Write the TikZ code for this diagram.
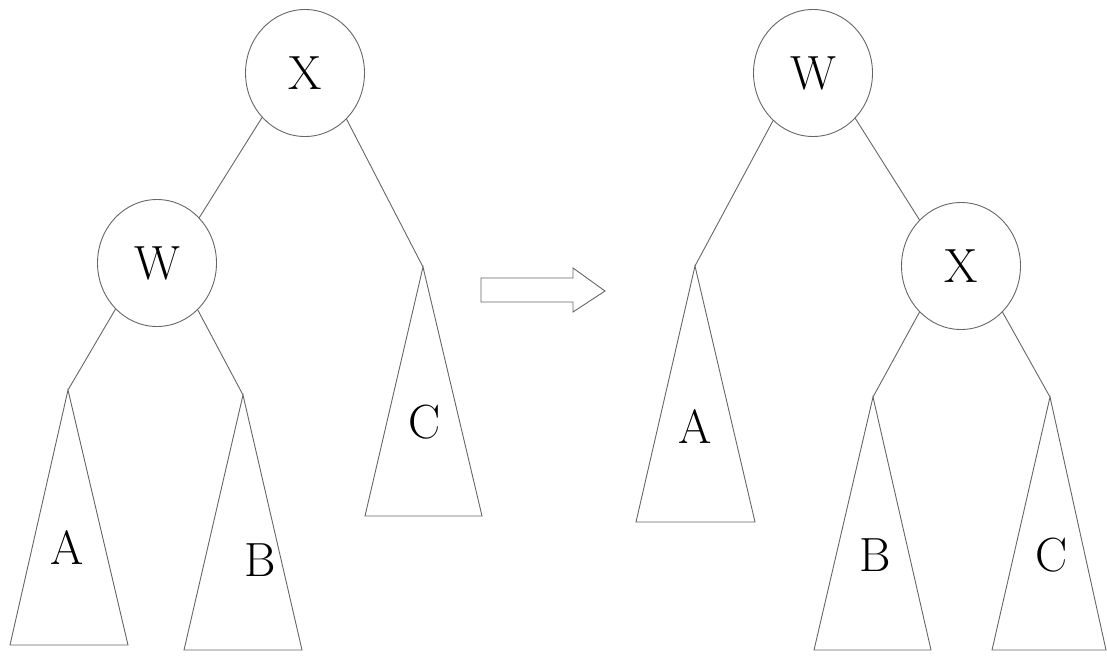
\documentclass[tikz,border=0pt]{standalone}
\usetikzlibrary{shapes.geometric}
\begin{document}
\begin{tikzpicture}[x=1pt,y=-1pt,
  ln/.style={draw=black!60,line width=0.9pt},
  vert/.style={ellipse,ln,minimum width=119pt,minimum height=127pt,inner sep=0pt,font=\fontsize{48}{48}\selectfont},
  lbl/.style={font=\fontsize{48}{48}\selectfont,inner sep=0pt}]
\useasboundingbox (0,0) rectangle (1107,656);
% left tree
\node[vert] (LX) at (305,73) {X};
\node[vert] (LW) at (157,263) {W};
\coordinate (LA) at (68,390);  \coordinate (LAl) at (10,645);  \coordinate (LAr) at (128,645);
\coordinate (LB) at (243,395); \coordinate (LBl) at (184,650); \coordinate (LBr) at (302,650);
\coordinate (LC) at (423,267); \coordinate (LCl) at (365,516); \coordinate (LCr) at (482,516);
\draw[ln] (LA) -- (LAl) -- (LAr) -- cycle;
\draw[ln] (LB) -- (LBl) -- (LBr) -- cycle;
\draw[ln] (LC) -- (LCl) -- (LCr) -- cycle;
\node[lbl] (LAt) at (67,548) {A};
\node[lbl] (LBt) at (260,560) {B};
\node[lbl] (LCt) at (425,422) {C};
\draw[ln] (LX.226) -- (LW.47);
\draw[ln] (LX.312) -- (LC);
\draw[ln] (LW.228) -- (LA);
\draw[ln] (LW.311) -- (LB);
% arrow
\draw[ln,line join=miter] (481,278) -- (573,278) -- (573,268) -- (605,291) -- (573,312) -- (573,302) -- (481,302) -- cycle;
% right tree
\node[vert] (RW) at (813,73) {W};
\node[vert] (RX) at (961,266) {X};
\coordinate (RA) at (695,266); \coordinate (RAl) at (636,522); \coordinate (RAr) at (755,522);
\coordinate (RB) at (873,397); \coordinate (RBl) at (814,650); \coordinate (RBr) at (931,650);
\coordinate (RC) at (1050,397); \coordinate (RCl) at (992,650); \coordinate (RCr) at (1106,650);
\draw[ln] (RA) -- (RAl) -- (RAr) -- cycle;
\draw[ln] (RB) -- (RBl) -- (RBr) -- cycle;
\draw[ln] (RC) -- (RCl) -- (RCr) -- cycle;
\node[lbl] (RAt) at (695,427) {A};
\node[lbl] (RBt) at (875,555) {B};
\node[lbl] (RCt) at (1052,555) {C};
\draw[ln] (RW.230) -- (RA);
\draw[ln] (RW.313) -- (RX.132);
\draw[ln] (RX.228) -- (RB);
\draw[ln] (RX.312) -- (RC);
\end{tikzpicture}
\end{document}
